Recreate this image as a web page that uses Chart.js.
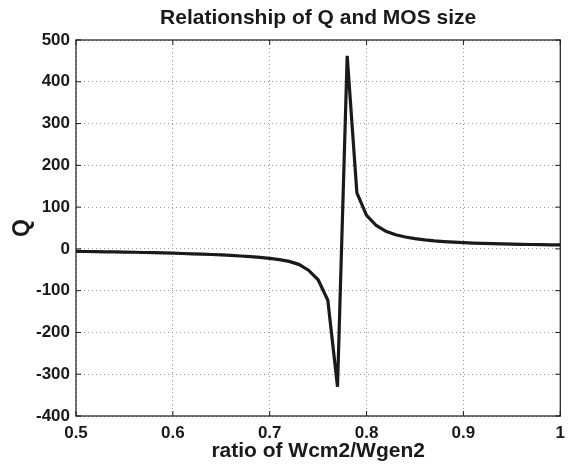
<!DOCTYPE html>
<html>
<head>
<meta charset="utf-8">
<script src="https://cdn.jsdelivr.net/npm/chart.js@4"></script>
<style>
  html, body { margin: 0; padding: 0; background: #fff; }
  #wrap { width: 572px; height: 464px; }
</style>
</head>
<body>
<div id="wrap"><canvas id="c" width="572" height="464"></canvas></div>
<script>
const ratio = [0.50,0.51,0.52,0.53,0.54,0.55,0.56,0.57,0.58,0.59,
               0.60,0.61,0.62,0.63,0.64,0.65,0.66,0.67,0.68,0.69,
               0.70,0.71,0.72,0.73,0.74,0.75,0.76,0.77,0.78,0.79,
               0.80,0.81,0.82,0.83,0.84,0.85,0.86,0.87,0.88,0.89,
               0.90,0.91,0.92,0.93,0.94,0.95,0.96,0.97,0.98,0.99,1.00];
const qValues = [-6,-6.3,-6.6,-7,-7.3,-7.7,-8.1,-8.6,-9.1,-9.7,
                 -10.3,-11,-11.7,-12.5,-13.4,-14.4,-15.6,-17,-18.6,-20.5,
                 -22.8,-25.8,-30,-37,-51,-74,-123,-330,462,134,
                 80,56,42,34,28.5,24.5,21.5,19.2,17.5,16.1,
                 15,14,13.2,12.5,11.9,11.4,10.9,10.5,10.1,9.8,9.5];
const xTicks = [0.5,0.6,0.7,0.8,0.9,1];
const yTicks = [-400,-300,-200,-100,0,100,200,300,400,500];

const FONT = "'Liberation Sans', Arial, Helvetica, sans-serif";

const boxPlugin = {
  id: 'box',
  afterDatasetsDraw(chart) {
    const {ctx, chartArea: a, scales} = chart;
    ctx.save();
    ctx.strokeStyle = '#1a1a1a';
    ctx.lineWidth = 1.2;
    ctx.strokeRect(a.left, a.top, a.right - a.left, a.bottom - a.top);
    const L = 5;
    ctx.lineWidth = 1;
    ctx.beginPath();
    xTicks.forEach(v => {
      const px = scales.x.getPixelForValue(v);
      ctx.moveTo(px, a.bottom); ctx.lineTo(px, a.bottom - L);
      ctx.moveTo(px, a.top); ctx.lineTo(px, a.top + L);
    });
    yTicks.forEach(v => {
      const py = scales.y.getPixelForValue(v);
      ctx.moveTo(a.left, py); ctx.lineTo(a.left + L, py);
      ctx.moveTo(a.right, py); ctx.lineTo(a.right - L, py);
    });
    ctx.stroke();
    ctx.restore();
  }
};

new Chart(document.getElementById('c'), {
  type: 'line',
  data: {
    datasets: [{
      data: ratio.map((r, i) => ({x: r, y: qValues[i]})),
      borderColor: '#1a1a1a',
      borderWidth: 3.2,
      pointRadius: 0,
      tension: 0,
      fill: false
    }]
  },
  options: {
    responsive: false,
    animation: false,
    devicePixelRatio: 1,
    layout: { padding: { left: 0, right: 10, top: 0, bottom: 0 } },
    plugins: {
      legend: { display: false },
      tooltip: { enabled: false },
      title: {
        display: true,
        fullSize: false,
        text: 'Relationship of Q and MOS size',
        color: '#1a1a1a',
        font: { family: FONT, size: 21, weight: 'bold', lineHeight: 1.2 },
        padding: { top: 6, bottom: 8.8 }
      }
    },
    scales: {
      x: {
        type: 'linear',
        min: 0.5, max: 1,
        afterBuildTicks(s) { s.ticks = xTicks.map(v => ({value: v})); },
        afterFit(s) { s.height = 48; },
        ticks: {
          color: '#1a1a1a',
          font: { family: FONT, size: 17, weight: 'bold' },
          padding: 7,
          maxRotation: 0,
          callback: v => String(v)
        },
        grid: {
          color: '#999999',
          lineWidth: 1,
          drawTicks: false
        },
        border: { display: false, dash: [1, 3] },
        title: {
          display: true,
          text: 'ratio of Wcm2/Wgen2',
          color: '#1a1a1a',
          font: { family: FONT, size: 21, weight: 'bold', lineHeight: 1.2 },
          padding: { top: 0, bottom: 0 }
        }
      },
      y: {
        type: 'linear',
        min: -400, max: 500,
        afterBuildTicks(s) { s.ticks = yTicks.map(v => ({value: v})); },
        afterFit(s) { s.width = 76; },
        ticks: {
          color: '#1a1a1a',
          font: { family: FONT, size: 17, weight: 'bold' },
          padding: 6,
          callback: v => String(v)
        },
        grid: {
          color: '#999999',
          lineWidth: 1,
          drawTicks: false
        },
        border: { display: false, dash: [1, 3] },
        title: {
          display: true,
          text: 'Q',
          color: '#1a1a1a',
          font: { family: FONT, size: 23, weight: 'bold', lineHeight: 1.2 },
          padding: { top: 8.5, bottom: 0 }
        }
      }
    }
  },
  plugins: [boxPlugin]
});
</script>
</body>
</html>
